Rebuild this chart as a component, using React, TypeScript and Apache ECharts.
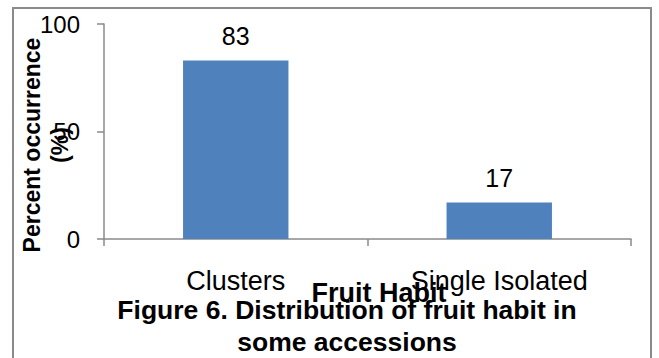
import React, { useEffect, useRef } from "react";
import * as echarts from "echarts";

const categories = ["Clusters", "Single Isolated"];
const values = [83, 17];
const yTicks = { min: 0, max: 100, interval: 50 };
const yAxisTitle = "Percent occurrence\n(%)";
const xAxisTitle = "Fruit Habit";
const figureTitle = "Figure 6. Distribution of fruit habit in\nsome accessions";

const FONT = "'Liberation Sans', Arial, sans-serif";
const AXIS = "#8a8a8a";

export default function App() {
  const ref = useRef<HTMLDivElement>(null);
  useEffect(() => {
    if (!ref.current) return;
    const chart = echarts.init(ref.current, null, { renderer: "svg" });
    chart.setOption({
      animation: false,
      backgroundColor: "#ffffff",
      textStyle: { fontFamily: FONT },
      grid: {
        left: 104,
        right: 28,
        top: 24,
        bottom: 119,
        containLabel: false,
        outerBoundsMode: "none",
      },
      xAxis: {
        type: "category",
        data: categories,
        boundaryGap: true,
        axisLine: { show: true, lineStyle: { color: AXIS, width: 1.5 } },
        axisTick: { show: true, length: 7, alignWithLabel: false, lineStyle: { color: AXIS, width: 1.5 } },
        axisLabel: { color: "#000", fontSize: 27, fontFamily: FONT, margin: 28, interval: 0 },
        splitLine: { show: false },
      },
      yAxis: {
        type: "value",
        min: yTicks.min,
        max: yTicks.max,
        interval: yTicks.interval,
        axisLine: { show: true, lineStyle: { color: AXIS, width: 1.5 } },
        axisTick: { show: true, length: 7, lineStyle: { color: AXIS, width: 1.5 } },
        axisLabel: { color: "#000", fontSize: 24, fontFamily: FONT, margin: 24 },
        splitLine: { show: false },
      },
      series: [
        {
          type: "bar",
          data: values,
          barWidth: "40%",
          itemStyle: { color: "#4f81bd" },
          label: { show: true, position: "top", distance: 12, color: "#000", fontSize: 25, fontFamily: FONT },
        },
      ],
      graphic: [
        {
          type: "rect",
          shape: { x: 13, y: 8, width: 638, height: 360 },
          style: { fill: "none", stroke: "#8a8a8a", lineWidth: 2 },
          silent: true,
          z: -1,
        },
        {
          type: "text",
          x: 46,
          y: 145,
          rotation: Math.PI / 2,
          style: {
            text: yAxisTitle,
            fill: "#000",
            font: `bold 23px ${FONT}`,
            lineHeight: 28,
            textAlign: "center",
            textVerticalAlign: "middle",
          },
        },
        {
          type: "text",
          x: 379,
          y: 293,
          style: {
            text: xAxisTitle,
            fill: "#000",
            font: `bold 27px ${FONT}`,
            textAlign: "center",
            textVerticalAlign: "middle",
          },
        },
        {
          type: "text",
          x: 347,
          y: 326,
          style: {
            text: figureTitle,
            fill: "#000",
            font: `bold 26.5px ${FONT}`,
            lineHeight: 32,
            textAlign: "center",
            textVerticalAlign: "middle",
          },
        },
      ],
    });
    return () => chart.dispose();
  }, []);
  return (
    <div
      ref={ref}
      style={{ position: "fixed", left: 0, top: 0, width: 659, height: 358 }}
    />
  );
}
